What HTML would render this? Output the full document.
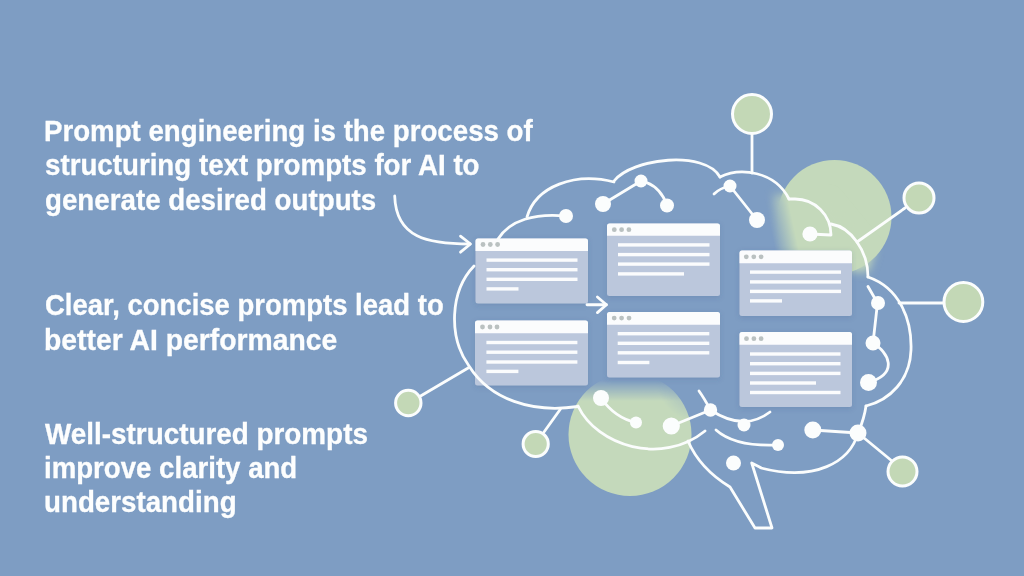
<!DOCTYPE html>
<html><head><meta charset="utf-8">
<style>
html,body{margin:0;padding:0;}
body{width:1024px;height:576px;overflow:hidden;background:#7e9dc3;position:relative;}
.t{position:absolute;font-family:"Liberation Sans",sans-serif;font-weight:bold;font-size:29.5px;line-height:34px;color:#fdfefe;white-space:nowrap;transform-origin:0 50%;-webkit-text-stroke:0.3px #fdfefe;}
svg{position:absolute;left:0;top:0;}
</style></head><body>
<svg width="1024" height="576" viewBox="0 0 1024 576">
<defs>
<linearGradient id="m1g" gradientUnits="userSpaceOnUse" x1="771" y1="232" x2="794" y2="227">
<stop offset="0" stop-color="#fff" stop-opacity="0"/>
<stop offset="1" stop-color="#fff" stop-opacity="1"/>
</linearGradient>
<mask id="m1" maskUnits="userSpaceOnUse" x="0" y="0" width="1024" height="576"><rect width="1024" height="576" fill="url(#m1g)"/></mask>
<filter id="bl1" x="-50%" y="-50%" width="200%" height="200%"><feGaussianBlur stdDeviation="5"/></filter>
<linearGradient id="m2g" gradientUnits="userSpaceOnUse" x1="0" y1="380" x2="0" y2="401">
<stop offset="0" stop-color="#fff" stop-opacity="0"/>
<stop offset="1" stop-color="#fff" stop-opacity="1"/>
</linearGradient>
<mask id="m2" maskUnits="userSpaceOnUse" x="0" y="0" width="1024" height="576"><rect width="1024" height="576" fill="url(#m2g)"/></mask>
<radialGradient id="m3g" gradientUnits="userSpaceOnUse" cx="700" cy="378" r="44">
<stop offset="0" stop-color="#fff" stop-opacity="0.25"/>
<stop offset="1" stop-color="#fff" stop-opacity="1"/>
</radialGradient>
<mask id="m3" maskUnits="userSpaceOnUse" x="0" y="0" width="1024" height="576"><rect width="1024" height="576" fill="url(#m3g)"/></mask>
<filter id="sh" x="-10%" y="-10%" width="120%" height="130%"><feDropShadow dx="0" dy="1.5" stdDeviation="2.5" flood-color="#3a5580" flood-opacity="0.18"/></filter>
</defs>
<g mask="url(#m1)"><circle cx="834.5" cy="217" r="57" fill="#c4d9bb"/><path d="M770,195 L830,195 L875,250 L868,272 L770,262 Z" fill="#c4d9bb" filter="url(#bl1)"/></g>
<g mask="url(#m2)"><circle cx="630" cy="434.5" r="61.5" fill="#c4d9bb" mask="url(#m3)"/></g>

<!-- cards -->
<g id="cards" filter="url(#sh)">
<g transform="translate(475.5,238.5)">
<rect x="0" y="0" width="112.5" height="65" rx="2.5" fill="#bbc7dc"/>
<path d="M0,12.5 V2.5 A2.5,2.5 0 0 1 2.5,0 H110 A2.5,2.5 0 0 1 112.5,2.5 V12.5 Z" fill="#fbfcfd"/>
<circle cx="7.5" cy="6" r="2.4" fill="#bac1c1"/><circle cx="14.8" cy="6" r="2.4" fill="#bac1c1"/><circle cx="22.1" cy="6" r="2.4" fill="#bac1c1"/>
<g fill="#fbfcfd"><rect x="11" y="19.9" width="91" height="3.4"/><rect x="11" y="29.5" width="91" height="3.4"/><rect x="11" y="39.1" width="91" height="3.4"/><rect x="11" y="48.7" width="32" height="3.4"/></g>
</g>
<g transform="translate(607,223.5)">
<rect x="0" y="0" width="113" height="72.5" rx="2.5" fill="#bbc7dc"/>
<path d="M0,12.3 V2.5 A2.5,2.5 0 0 1 2.5,0 H110.5 A2.5,2.5 0 0 1 113,2.5 V12.3 Z" fill="#fbfcfd"/>
<circle cx="7.3" cy="6.2" r="2.4" fill="#bac1c1"/><circle cx="14.6" cy="6.2" r="2.4" fill="#bac1c1"/><circle cx="21.9" cy="6.2" r="2.4" fill="#bac1c1"/>
<g fill="#fbfcfd"><rect x="11" y="19.7" width="91.5" height="3.4"/><rect x="11" y="29.4" width="91.5" height="3.4"/><rect x="11" y="38.9" width="91.5" height="3.4"/><rect x="11" y="48.7" width="66" height="3.4"/></g>
</g>
<g transform="translate(739.5,250.5)">
<rect x="0" y="0" width="112.5" height="65.5" rx="2.5" fill="#bbc7dc"/>
<path d="M0,12.7 V2.5 A2.5,2.5 0 0 1 2.5,0 H110 A2.5,2.5 0 0 1 112.5,2.5 V12.7 Z" fill="#fbfcfd"/>
<circle cx="6.8" cy="6.3" r="2.4" fill="#bac1c1"/><circle cx="14.3" cy="6.3" r="2.4" fill="#bac1c1"/><circle cx="21.6" cy="6.3" r="2.4" fill="#bac1c1"/>
<g fill="#fbfcfd"><rect x="10.5" y="19.9" width="91" height="3.4"/><rect x="10.5" y="29.7" width="91" height="3.4"/><rect x="10.5" y="39.2" width="91" height="3.4"/><rect x="10.5" y="48.7" width="32" height="3.4"/></g>
</g>
<g transform="translate(739.5,332)">
<rect x="0" y="0" width="112.5" height="75" rx="2.5" fill="#bbc7dc"/>
<path d="M0,12.7 V2.5 A2.5,2.5 0 0 1 2.5,0 H110 A2.5,2.5 0 0 1 112.5,2.5 V12.7 Z" fill="#fbfcfd"/>
<circle cx="7" cy="6.7" r="2.4" fill="#bac1c1"/><circle cx="14.4" cy="6.7" r="2.4" fill="#bac1c1"/><circle cx="21.6" cy="6.7" r="2.4" fill="#bac1c1"/>
<g fill="#fbfcfd"><rect x="10.5" y="20.3" width="90.5" height="3.4"/><rect x="10.5" y="30.0" width="90.5" height="3.4"/><rect x="10.5" y="39.7" width="90.5" height="3.4"/><rect x="10.5" y="49.3" width="66" height="3.4"/><rect x="10.5" y="58.8" width="90.5" height="3.4"/></g>
</g>
<g transform="translate(475,320.6)">
<rect x="0" y="0" width="113" height="65" rx="2.5" fill="#bbc7dc"/>
<path d="M0,12.7 V2.5 A2.5,2.5 0 0 1 2.5,0 H110.5 A2.5,2.5 0 0 1 113,2.5 V12.7 Z" fill="#fbfcfd"/>
<circle cx="7.5" cy="6.4" r="2.4" fill="#bac1c1"/><circle cx="15" cy="6.4" r="2.4" fill="#bac1c1"/><circle cx="22" cy="6.4" r="2.4" fill="#bac1c1"/>
<g fill="#fbfcfd"><rect x="11.4" y="20.2" width="91" height="3.4"/><rect x="11.4" y="29.9" width="91" height="3.4"/><rect x="11.4" y="39.7" width="91" height="3.4"/><rect x="11.4" y="49.1" width="32" height="3.4"/></g>
</g>
<g transform="translate(607,312)">
<rect x="0" y="0" width="113" height="65.6" rx="2.5" fill="#bbc7dc"/>
<path d="M0,12.7 V2.5 A2.5,2.5 0 0 1 2.5,0 H110.5 A2.5,2.5 0 0 1 113,2.5 V12.7 Z" fill="#fbfcfd"/>
<circle cx="7.2" cy="6.1" r="2.4" fill="#bac1c1"/><circle cx="14.6" cy="6.1" r="2.4" fill="#bac1c1"/><circle cx="22" cy="6.1" r="2.4" fill="#bac1c1"/>
<g fill="#fbfcfd"><rect x="10.7" y="20.0" width="91.6" height="3.4"/><rect x="10.7" y="29.6" width="91.6" height="3.4"/><rect x="10.7" y="39.1" width="91.6" height="3.4"/><rect x="10.7" y="48.8" width="31.7" height="3.4"/></g>
</g>
</g>

<!-- outline -->
<g fill="none" stroke="#fbfdfd" stroke-width="2.8" stroke-linecap="round" stroke-linejoin="round">
<path d="M498,239 C510,220 535,213 566,216"/>
<path d="M527,217 C536,186 575,172 614,182"/>
<path d="M614,181 C632,158 705,150 720,177"/>
<path d="M720,177 C740,167 775,171 789,199"/>
<path d="M789,199 L795,199 A36,36 0 0 1 831,235 L810,234"/>
<path d="M831,224 C850,227 868,250 868,277"/>
<path d="M868,277 C900,288 912,320 911,350 C910,380 890,400 866,406"/>
<path d="M866,406 C864,420 860,428 858,433 C850,462 815,482 761,468"/>
<path d="M760.5,467.5 L751.7,463 L772,528 L755,528 L730,487 C712,476 697,462 688,441"/>
<path d="M578,406 C597,446 662,466 705,431"/>
<path d="M474,266 C450,291 448,337 469,366 C490,399.5 532,413.5 578,406.5"/>
<!-- connectors -->
<path d="M752,135 L752,173"/>
<path d="M857,242 L905,208"/>
<path d="M899,303 L944,303"/>
<path d="M420.6,396 L469,367.5"/>
<path d="M544,432 L560.5,409"/>
<path d="M858,433 L892,461"/>
<!-- dot links -->
<path d="M603,204 L641,181 Q660,185 667,205.5"/>
<path d="M714,194 Q720,188 730,186 L757,220"/>
<path d="M868,286.5 L877.5,303 L873,343 C888,352 900,373 868.5,382.5"/>
<path d="M812.8,430 L858,433"/>
<path d="M601,398 Q615,418 636,422.5"/>
<path d="M671.3,426 L710.5,410 Q704,398 699,391"/>
<path d="M710.5,410 Q744,432 770,412"/>
<path d="M716,430 Q735,447 778,445"/>
<!-- arrows -->
<path d="M394.7,196 C396,238 428,244 470,244"/>
<path d="M460.5,236.2 L470.5,244 L460.5,252.2"/>
<path d="M587,304.75 L606.4,304.75"/>
<path d="M597.4,297 L606.4,304.75 L597.4,312.6"/>
</g>

<!-- small green circles -->
<g fill="#c3d8b6" stroke="#fbfdfd" stroke-width="3">
<circle cx="752" cy="114" r="19.5"/>
<circle cx="919" cy="198" r="15"/>
<circle cx="963.4" cy="302" r="19.4"/>
<circle cx="408.3" cy="403" r="12.7"/>
<circle cx="535.7" cy="444" r="12.6"/>
<circle cx="902.5" cy="471.5" r="14.5"/>
</g>

<!-- white dots -->
<g fill="#fbfdfd">
<circle cx="566" cy="216" r="7"/>
<circle cx="603" cy="204" r="8"/>
<circle cx="641" cy="181" r="6.5"/>
<circle cx="667" cy="205.5" r="7"/>
<circle cx="730" cy="186" r="6.5"/>
<circle cx="757" cy="220" r="8"/>
<circle cx="810" cy="234" r="7.6"/>
<circle cx="878" cy="303" r="7"/>
<circle cx="873" cy="343" r="7.5"/>
<circle cx="868.5" cy="382.5" r="8.5"/>
<circle cx="812.8" cy="430" r="8.5"/>
<circle cx="858" cy="433" r="8.5"/>
<circle cx="601" cy="398" r="8"/>
<circle cx="636" cy="422.5" r="6"/>
<circle cx="671.3" cy="426" r="8.6"/>
<circle cx="710.5" cy="410" r="6.7"/>
<circle cx="744" cy="425" r="6.5"/>
<circle cx="778" cy="445" r="6"/>
<circle cx="733.5" cy="463" r="7.5"/>
</g>
</svg>

<div class="t" style="left:44.00px;top:113.78px;transform:scaleX(0.9375)">Prompt engineering is the process of</div>
<div class="t" style="left:45.00px;top:148.28px;transform:scaleX(0.9391)">structuring text prompts for AI to</div>
<div class="t" style="left:45.00px;top:182.58px;transform:scaleX(0.9398)">generate desired outputs</div>
<div class="t" style="left:45.00px;top:288.28px;transform:scaleX(0.9318)">Clear, concise prompts lead to</div>
<div class="t" style="left:44.00px;top:322.78px;transform:scaleX(0.9603)">better AI performance</div>
<div class="t" style="left:45.20px;top:416.6px;transform:scaleX(0.9441)">Well-structured prompts</div>
<div class="t" style="left:44.00px;top:450.58px;transform:scaleX(0.9361)">improve clarity and</div>
<div class="t" style="left:44.00px;top:484.78px;transform:scaleX(0.9400)">understanding</div>
</body></html>
